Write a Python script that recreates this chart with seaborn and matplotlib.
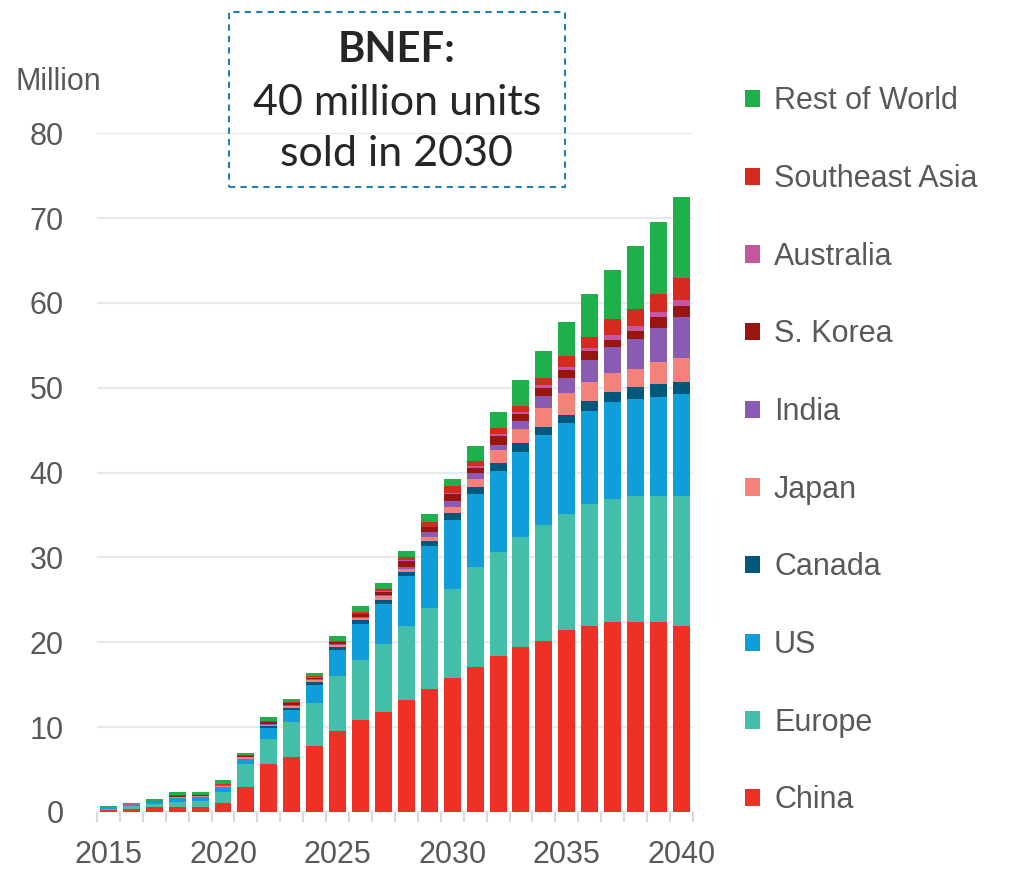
import pandas as pd
import matplotlib.pyplot as plt
from matplotlib.patches import Rectangle
import seaborn as sns

# EV sales by region, million units
years = list(range(2015, 2041))

china = [0.2, 0.4, 0.6, 0.6, 0.6, 1.1, 3.0, 5.6, 6.5, 7.8, 9.6, 10.8, 11.8,
         13.2, 14.5, 15.8, 17.1, 18.4, 19.4, 20.2, 21.4, 21.9, 22.4, 22.4, 22.4, 21.9]
europe = [0.15, 0.25, 0.3, 0.6, 0.75, 1.3, 2.6, 3.0, 4.1, 5.1, 6.4, 7.1, 8.0,
          8.7, 9.6, 10.5, 11.8, 12.2, 13.0, 13.6, 13.7, 14.4, 14.5, 14.9, 14.9, 15.4]
us = [0.1, 0.15, 0.25, 0.45, 0.4, 0.5, 0.6, 1.3, 1.4, 2.1, 3.1, 4.3, 4.7,
      5.9, 7.3, 8.1, 8.6, 9.6, 10.0, 10.6, 10.7, 11.0, 11.4, 11.4, 11.6, 12.0]
canada = [0.02, 0.02, 0.03, 0.05, 0.05, 0.1, 0.1, 0.2, 0.3, 0.3, 0.3, 0.4, 0.45,
          0.5, 0.55, 0.8, 0.8, 0.9, 1.1, 1.0, 1.0, 1.1, 1.2, 1.4, 1.5, 1.4]
japan = [0.03, 0.03, 0.04, 0.1, 0.1, 0.1, 0.15, 0.2, 0.2, 0.25, 0.3, 0.3, 0.5,
         0.4, 0.5, 0.8, 1.0, 1.6, 1.6, 2.2, 2.6, 2.3, 2.3, 2.1, 2.7, 2.8]
india = [0.0, 0.01, 0.02, 0.02, 0.02, 0.05, 0.05, 0.1, 0.1, 0.1, 0.1, 0.1, 0.1,
         0.2, 0.5, 0.7, 0.6, 0.6, 1.0, 1.4, 1.7, 2.6, 3.0, 3.5, 3.9, 4.9]
korea = [0.02, 0.02, 0.03, 0.05, 0.05, 0.05, 0.1, 0.15, 0.2, 0.2, 0.2, 0.3, 0.4,
         0.7, 0.6, 0.8, 0.7, 1.0, 0.8, 1.0, 1.0, 1.0, 0.8, 1.0, 1.4, 1.2]
australia = [0.01, 0.01, 0.01, 0.01, 0.01, 0.02, 0.05, 0.05, 0.05, 0.05, 0.05, 0.05, 0.05,
             0.05, 0.1, 0.1, 0.2, 0.2, 0.2, 0.3, 0.4, 0.4, 0.6, 0.6, 0.5, 0.8]
se_asia = [0.02, 0.03, 0.04, 0.07, 0.07, 0.08, 0.1, 0.15, 0.1, 0.15, 0.15, 0.25, 0.25,
           0.35, 0.5, 0.8, 0.6, 0.8, 0.8, 0.9, 1.2, 1.3, 1.9, 2.0, 2.2, 2.6]
rest = [0.1, 0.13, 0.23, 0.35, 0.3, 0.5, 0.25, 0.45, 0.35, 0.35, 0.6, 0.7, 0.7,
        0.8, 1.0, 0.8, 1.8, 1.9, 3.0, 3.1, 4.1, 5.0, 5.8, 7.4, 8.5, 9.5]

# top of stack first (same order as the legend)
regions = ['Rest of World', 'Southeast Asia', 'Australia', 'S. Korea', 'India',
           'Japan', 'Canada', 'US', 'Europe', 'China']
values = {'Rest of World': rest, 'Southeast Asia': se_asia, 'Australia': australia,
          'S. Korea': korea, 'India': india, 'Japan': japan, 'Canada': canada,
          'US': us, 'Europe': europe, 'China': china}
colors = {'Rest of World': '#1DB04B', 'Southeast Asia': '#D52B1E', 'Australia': '#C4579F',
          'S. Korea': '#9A1510', 'India': '#8A5BB3', 'Japan': '#F4827A',
          'Canada': '#00587A', 'US': '#119CDA', 'Europe': '#43BEA9', 'China': '#EE3124'}

rows = []
for r in regions:
    for y, v in zip(years, values[r]):
        rows.append({'year': y, 'region': r, 'sales': v})
df = pd.DataFrame(rows)

sns.set_style('white')
plt.rcParams['font.family'] = ['Liberation Sans', 'DejaVu Sans']
grey = '#595959'

fig = plt.figure(figsize=(10.1, 8.69), dpi=100)
ax = fig.add_axes([0.096, 0.0656, 0.59, 0.781])

sns.histplot(data=df, x='year', weights='sales', hue='region', hue_order=regions,
             multiple='stack', discrete=True, shrink=0.74, palette=colors,
             alpha=1, linewidth=0, ax=ax)

ax.set_xlim(2014.5, 2040.5)
ax.set_ylim(0, 80)
ax.set_yticks(range(0, 81, 10))
ax.set_xticks(range(2015, 2041, 5))
ax.set_xticks([y + 0.5 for y in range(2014, 2041)], minor=True)
ax.set_xlabel('')
ax.set_ylabel('')
ax.yaxis.grid(True, color='#EAEAEA', lw=1.6)
ax.set_axisbelow(True)
sns.despine(ax=ax, left=True, bottom=True)
ax.tick_params(axis='y', length=0, pad=24, labelsize=22, labelcolor=grey)
ax.tick_params(axis='x', which='major', length=0, pad=20, labelsize=22, labelcolor=grey)
ax.tick_params(axis='x', which='minor', bottom=True, length=7, width=1.5, color='#D9D9D9')

sns.move_legend(ax, 'upper left', bbox_to_anchor=(0.7376, 0.9005),
                bbox_transform=fig.transFigure, frameon=False, title=None,
                fontsize=22, labelcolor=grey, handlelength=0.5, handleheight=0.5,
                handletextpad=0.45, labelspacing=1.56, borderpad=0, borderaxespad=0)

fig.text(0.015, 0.906, 'Million', fontsize=22, color=grey, ha='left', va='center')

# BNEF call-out box
fig.add_artist(Rectangle((0.2267, 0.7848), 0.3327, 0.2014, transform=fig.transFigure,
                         fill=False, ec='#1F80B8', lw=1.5, ls=(0, (3, 2.5))))
fig.text(0.393, 1 - 50 / 869, 'BNEF:', fontsize=30, fontweight='bold',
         family='Lato', ha='center', va='center')
fig.text(0.393, 1 - 103 / 869, '40 million units', fontsize=31,
         family='Lato', ha='center', va='center')
fig.text(0.393, 1 - 154 / 869, 'sold in 2030', fontsize=31,
         family='Lato', ha='center', va='center')

fig.savefig('out.png', dpi=100)
